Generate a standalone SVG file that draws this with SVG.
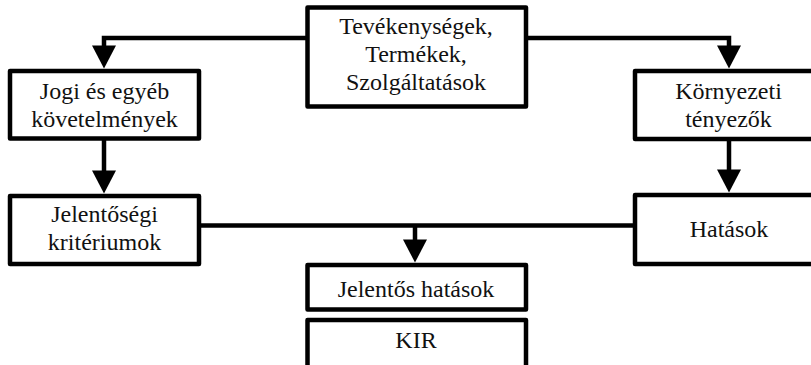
<svg xmlns="http://www.w3.org/2000/svg" xmlns:xlink="http://www.w3.org/1999/xlink" width="811" height="365" viewBox="0 0 811 365">
  <style>
    .box { fill: #ffffff; stroke: #000000; stroke-width: 4.5; stroke-linejoin: round; }
    .wire { fill: none; stroke: #000000; stroke-width: 4.5; }
    text { font-family: 'Liberation Serif', 'Times New Roman', serif; font-size: 24px; fill: #111111; text-anchor: middle; }
  </style>
  <defs>
    <!-- downward arrowhead, tip at the origin -->
    <path id="ah" d="M0,0 L-12,-23 L12,-23 Z" fill="#000000"/>
  </defs>

  <g id="connectors">
    <path class="wire" d="M307.5,38 H104 V50"/>
    <use xlink:href="#ah" x="104" y="68.5"/>
    <path class="wire" d="M526,38 H729 V50"/>
    <use xlink:href="#ah" x="729" y="68.5"/>
    <path class="wire" d="M104,138.5 V176"/>
    <use xlink:href="#ah" x="104" y="193.5"/>
    <path class="wire" d="M729,139 V175"/>
    <use xlink:href="#ah" x="729" y="192.5"/>
    <path class="wire" d="M199,225.5 H635"/>
    <path class="wire" d="M415,225.5 V245"/>
    <use xlink:href="#ah" x="415" y="262.5"/>
  </g>

  <g id="tevekenysegek">
    <rect class="box" x="307.5" y="7.5" width="218.5" height="99"/>
    <text x="416" y="34">Tevékenységek,</text>
    <text x="416" y="62">Termékek,</text>
    <text x="416" y="90">Szolgáltatások</text>
  </g>

  <g id="jogi">
    <rect class="box" x="10" y="71" width="189" height="67.5"/>
    <text x="104.5" y="99">Jogi és egyéb</text>
    <text x="104.5" y="127">követelmények</text>
  </g>

  <g id="kornyezeti">
    <rect class="box" x="635" y="71" width="190" height="68"/>
    <text x="728.5" y="99">Környezeti</text>
    <text x="728.5" y="127">tényezők</text>
  </g>

  <g id="jelentosegi">
    <rect class="box" x="10" y="196" width="189" height="68"/>
    <text x="104.5" y="222">Jelentőségi</text>
    <text x="104.5" y="250">kritériumok</text>
  </g>

  <g id="hatasok">
    <rect class="box" x="635" y="195" width="190" height="69"/>
    <text x="729" y="237">Hatások</text>
  </g>

  <g id="jelentos-hatasok">
    <rect class="box" x="307.5" y="265" width="218.5" height="44.5"/>
    <text x="416" y="297">Jelentős hatások</text>
  </g>

  <g id="kir">
    <rect class="box" x="307.5" y="320" width="218.5" height="60"/>
    <text x="416" y="348">KIR</text>
  </g>
</svg>
